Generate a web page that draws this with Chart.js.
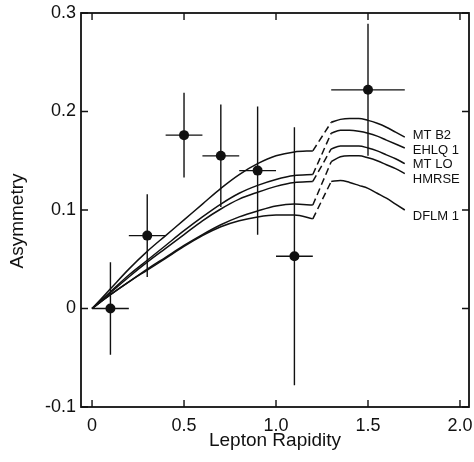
<!DOCTYPE html>
<html>
<head>
<meta charset="utf-8">
<script src="https://cdn.jsdelivr.net/npm/chart.js@4.4.0/dist/chart.umd.min.js"></script>
<style>
  html, body { margin: 0; padding: 0; background: #fff; }
  #wrap { width: 474px; height: 462px; }
</style>
</head>
<body>
<div id="wrap"><canvas id="chart" width="474" height="462"></canvas></div>
<script>
  const xTicks = [0, 0.5, 1.0, 1.5, 2.0];
  const yTicks = [-0.1, 0, 0.1, 0.2, 0.3];

  // measured asymmetry points
  const dataX = [0.1, 0.3, 0.5, 0.7, 0.9, 1.1, 1.5];
  const dataY = [0.0, 0.074, 0.176, 0.155, 0.140, 0.053, 0.222];
  const dataYErr = [0.047, 0.042, 0.043, 0.052, 0.065, 0.131, 0.067];
  const dataXErr = [0.1, 0.1, 0.1, 0.1, 0.1, 0.1, 0.2];

  // model curves: solid up to 1.2, dashed jump, solid from 1.3
  const curveNames = ['MT B2', 'EHLQ 1', 'MT LO', 'HMRSE', 'DFLM 1'];
  const leftX = [0, 0.1, 0.2, 0.3, 0.4, 0.5, 0.6, 0.7, 0.8, 0.9, 1.0, 1.1, 1.2];
  const rightX = [1.3, 1.35, 1.4, 1.45, 1.5, 1.55, 1.6, 1.65, 1.7];

  const mtB2Left = [0, 0.020, 0.040, 0.058, 0.074, 0.090, 0.106, 0.122, 0.136, 0.147, 0.155, 0.159, 0.160];
  const mtB2Right = [0.189, 0.192, 0.193, 0.193, 0.191, 0.188, 0.184, 0.179, 0.174];
  const ehlq1Left = [0, 0.017, 0.034, 0.049, 0.064, 0.079, 0.093, 0.106, 0.117, 0.125, 0.131, 0.135, 0.136];
  const ehlq1Right = [0.178, 0.181, 0.181, 0.180, 0.178, 0.175, 0.171, 0.167, 0.163];
  const mtLoLeft = [0, 0.016, 0.032, 0.047, 0.061, 0.075, 0.089, 0.101, 0.111, 0.118, 0.124, 0.128, 0.129];
  const mtLoRight = [0.162, 0.165, 0.165, 0.165, 0.163, 0.160, 0.156, 0.152, 0.147];
  const hmrseLeft = [0, 0.014, 0.027, 0.040, 0.052, 0.064, 0.075, 0.085, 0.093, 0.099, 0.104, 0.106, 0.105];
  const hmrseRight = [0.149, 0.154, 0.155, 0.155, 0.153, 0.150, 0.146, 0.142, 0.137];
  const dflm1Left = [0, 0.014, 0.027, 0.039, 0.051, 0.063, 0.074, 0.083, 0.089, 0.093, 0.095, 0.095, 0.091];
  const dflm1Right = [0.129, 0.130, 0.128, 0.125, 0.122, 0.117, 0.112, 0.106, 0.100];

  const curves = [
    [mtB2Left, mtB2Right],
    [ehlq1Left, ehlq1Right],
    [mtLoLeft, mtLoRight],
    [hmrseLeft, hmrseRight],
    [dflm1Left, dflm1Right]
  ];

  const INK = '#111';
  const FONT = '"Liberation Sans", Arial, sans-serif';
  const labelShift = [-2, 2, 1, 6, 6]; // px nudges for curve names

  const datasets = [];
  curves.forEach(([left, right], i) => {
    datasets.push({
      label: curveNames[i],
      data: leftX.map((x, k) => ({ x, y: left[k] })),
      borderColor: INK, borderWidth: 1.5, pointRadius: 0,
      cubicInterpolationMode: 'monotone', fill: false
    });
    datasets.push({
      label: curveNames[i] + ' jump',
      data: [{ x: leftX[leftX.length - 1], y: left[left.length - 1] }, { x: rightX[0], y: right[0] }],
      borderColor: INK, borderWidth: 1.5, pointRadius: 0, borderDash: [7, 4], fill: false
    });
    datasets.push({
      label: curveNames[i] + ' high',
      data: rightX.map((x, k) => ({ x, y: right[k] })),
      borderColor: INK, borderWidth: 1.5, pointRadius: 0,
      cubicInterpolationMode: 'monotone', fill: false
    });
  });

  const vBars = [];
  const hBars = [];
  dataX.forEach((x, i) => {
    vBars.push({ x, y: dataY[i] - dataYErr[i] }, { x, y: dataY[i] + dataYErr[i] }, { x, y: null });
    hBars.push({ x: x - dataXErr[i], y: dataY[i] }, { x: x + dataXErr[i], y: dataY[i] }, { x, y: null });
  });
  datasets.push({ label: 'y err', data: vBars, borderColor: INK, borderWidth: 1.4, pointRadius: 0, spanGaps: false });
  datasets.push({ label: 'x err', data: hBars, borderColor: INK, borderWidth: 1.4, pointRadius: 0, spanGaps: false });
  datasets.push({
    label: 'data',
    data: dataX.map((x, i) => ({ x, y: dataY[i] })),
    showLine: false, pointRadius: 5, pointBackgroundColor: INK, pointBorderColor: INK, pointBorderWidth: 0
  });

  const framePlugin = {
    id: 'frame',
    afterDraw (chart) {
      const { ctx, chartArea: a, scales } = chart;
      const len = 7;
      ctx.save();
      ctx.strokeStyle = INK;
      ctx.lineWidth = 1.8;
      ctx.strokeRect(a.left, a.top, a.right - a.left, a.bottom - a.top);
      ctx.lineWidth = 1.4;
      ctx.beginPath();
      xTicks.forEach(v => {
        const px = scales.x.getPixelForValue(v);
        ctx.moveTo(px, a.bottom); ctx.lineTo(px, a.bottom - len);
        ctx.moveTo(px, a.top); ctx.lineTo(px, a.top + len);
      });
      yTicks.forEach(v => {
        const py = scales.y.getPixelForValue(v);
        ctx.moveTo(a.left, py); ctx.lineTo(a.left + len, py);
        ctx.moveTo(a.right, py); ctx.lineTo(a.right - len, py);
      });
      ctx.stroke();

      ctx.fillStyle = INK;
      // y title, sits a little below the middle of the axis
      ctx.save();
      ctx.font = '19px ' + FONT;
      ctx.textAlign = 'center';
      ctx.textBaseline = 'middle';
      ctx.translate(18, (a.top + a.bottom) / 2 + 11);
      ctx.rotate(-Math.PI / 2);
      ctx.fillText('Asymmetry', 0, 0);
      ctx.restore();

      // curve names at the end of each high segment
      ctx.font = '13px ' + FONT;
      ctx.textBaseline = 'middle';
      ctx.textAlign = 'left';
      curves.forEach(([, right], i) => {
        const px = scales.x.getPixelForValue(rightX[rightX.length - 1]);
        const py = scales.y.getPixelForValue(right[right.length - 1]);
        ctx.fillText(curveNames[i], px + 8, py + labelShift[i]);
      });
      ctx.restore();
    }
  };

  const fmt = v => (Math.abs(v) < 1e-9 ? '0' : v.toFixed(1));

  new Chart(document.getElementById('chart'), {
    type: 'line',
    data: { datasets },
    options: {
      responsive: false,
      animation: false,
      layout: { padding: { top: 13, right: 5, left: 0, bottom: 0 } },
      plugins: { legend: { display: false }, tooltip: { enabled: false } },
      scales: {
        x: {
          type: 'linear',
          min: -0.06,
          max: 2.049,
          grid: { display: false, drawTicks: false },
          border: { display: false },
          afterBuildTicks: s => { s.ticks = xTicks.map(value => ({ value })); },
          afterFit: s => { s.height = 55; s.paddingLeft = 0; s.paddingRight = 0; },
          ticks: { color: INK, font: { family: FONT, size: 18 }, padding: 8, callback: fmt, autoSkip: false, maxRotation: 0 },
          title: { display: true, text: 'Lepton Rapidity', color: INK, font: { family: FONT, size: 19 }, padding: { top: 0, bottom: 10 } }
        },
        y: {
          type: 'linear',
          min: -0.1,
          max: 0.3,
          grid: { display: false, drawTicks: false },
          border: { display: false },
          afterBuildTicks: s => { s.ticks = yTicks.map(value => ({ value })); },
          afterFit: s => { s.width = 81; s.paddingTop = 0; s.paddingBottom = 0; },
          ticks: { color: INK, font: { family: FONT, size: 18 }, padding: 5, callback: fmt, autoSkip: false }
        }
      }
    },
    plugins: [framePlugin]
  });
</script>
</body>
</html>
